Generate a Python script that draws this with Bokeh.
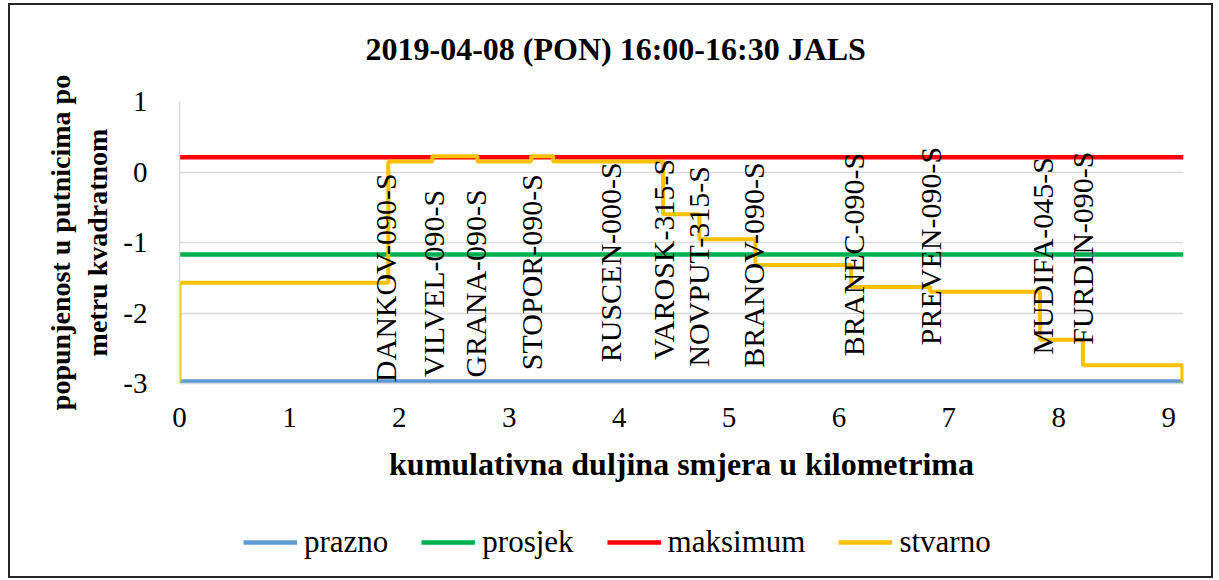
import math
from bokeh.plotting import figure
from bokeh.layouts import column
from bokeh.models import (Legend, LegendItem, FixedTicker, Range1d, ColumnDataSource, Div)
from bokeh.core.properties import value
from bokeh.embed import file_html
from bokeh.resources import INLINE

# ---------------- data ----------------
naslov = "2019-04-08 (PON) 16:00-16:30 JALS"
x_naziv = "kumulativna duljina smjera u kilometrima"
y_naziv = "popunjenost u putnicima po\nmetru kvadratnom"

x_ticks = [0, 1, 2, 3, 4, 5, 6, 7, 8, 9]
y_ticks = [-3, -2, -1, 0, 1]

duljina_km = [0.0, 9.135]
prazno = [-2.97, -2.97]
prosjek = [-1.17, -1.17]
maksimum = [0.21, 0.21]

stvarno_km = [0.0, 0.0, 1.90, 2.30, 2.71, 3.20, 3.40, 4.40, 4.73, 5.24, 6.11, 6.83, 7.83, 8.22, 9.125]
stvarno = [-2.97, -1.57, 0.15, 0.225, 0.15, 0.225, 0.15, -0.60, -0.955, -1.32, -1.63, -1.70, -2.38, -2.74, -2.97]

stanice = ["DANKOV-090-S", "VILVEL-090-S", "GRANA-090-S", "STOPOR-090-S", "RUSCEN-000-S",
           "VAROSK-315-S", "NOVPUT-315-S", "BRANOV-090-S", "BRANEC-090-S", "PREVEN-090-S",
           "MUDIFA-045-S", "FURDIN-090-S"]
stanice_km = [1.87, 2.31, 2.69, 3.20, 3.92, 4.40, 4.72, 5.22, 6.13, 6.83, 7.85, 8.22]
stanice_y = [-1.50, -1.58, -1.58, -1.42, -1.28, -1.24, -1.34, -1.32, -1.17, -1.05, -1.19, -1.08]

serije = ["prazno", "prosjek", "maksimum", "stvarno"]
boje = ["#5b9bd5", "#00b050", "#ff0000", "#ffc000"]

# ---------------- main figure ----------------
FONT = "Liberation Serif"

p = figure(width=1211, height=500, x_range=Range1d(0, 9.135), y_range=Range1d(-3, 1),
           output_backend="svg", toolbar_location=None,
           min_border_left=179, min_border_right=28, min_border_top=101, min_border_bottom=117,
           title=naslov)

p.title.text_font = FONT
p.title.text_font_size = "32px"
p.title.text_font_style = "bold"
p.title.text_color = "black"
p.title.align = "left"
p.title.offset = 186
try:
    p.title.padding = dict(left=0, right=0, top=0, bottom=35)
    p.title.standoff = 0
except Exception:
    p.title.standoff = 64

p.outline_line_color = None
p.background_fill_color = "white"
p.border_fill_color = "white"

p.xaxis.ticker = FixedTicker(ticks=x_ticks)
p.yaxis.ticker = FixedTicker(ticks=y_ticks)
p.yaxis.major_label_overrides = {t: str(t) for t in y_ticks}
for ax in (p.xaxis, p.yaxis):
    ax.major_tick_line_color = None
    ax.minor_tick_line_color = None
    ax.axis_line_color = "#d9d9d9"
    ax.axis_line_width = 1.5
    ax.major_label_text_font = FONT
    ax.major_label_text_font_size = "29px"
    ax.major_label_text_color = "black"
    ax.axis_label_text_font = FONT
    ax.axis_label_text_font_style = "bold"
    ax.axis_label_text_color = "black"

p.xaxis.axis_label = x_naziv
p.xaxis.axis_label_text_font_size = "32px"
p.xaxis.major_label_standoff = 18
p.xaxis.axis_label_standoff = 16

p.yaxis.axis_label = y_naziv
p.yaxis.axis_label_text_font_size = "28px"
p.yaxis.major_label_standoff = 26
p.yaxis.axis_label_standoff = 7

p.xgrid.visible = False
p.ygrid.grid_line_color = "#d9d9d9"
p.ygrid.grid_line_width = 1.5

p.line(duljina_km, prazno, line_color=boje[0], line_width=4.5)
p.line(duljina_km, prosjek, line_color=boje[1], line_width=4.5)
p.line(duljina_km, maksimum, line_color=boje[2], line_width=4.5)
p.step(stvarno_km, stvarno, mode="after", line_color=boje[3], line_width=4)

src = ColumnDataSource(dict(x=stanice_km, y=stanice_y, t=stanice))
p.text(x="x", y="y", text="t", source=src, angle=math.pi / 2,
       text_align="center", text_baseline="middle",
       text_font=value(FONT), text_font_size="30px", text_color="black")

# ---------------- legend strip ----------------
lg = figure(width=1211, height=76, x_range=Range1d(0, 1), y_range=Range1d(0, 1),
            output_backend="svg", toolbar_location=None,
            x_axis_type=None, y_axis_type=None, min_border=0)
lg.outline_line_color = None
lg.grid.visible = False
items = []
for naziv, boja in zip(serije, boje):
    r = lg.line([-10, -9], [0, 0], line_color=boja, line_width=4.5)
    items.append(LegendItem(label=naziv, renderers=[r]))
legend = Legend(items=items, orientation="horizontal", location=(64, 16),
                label_text_font=FONT, label_text_font_size="31px", label_text_color="black",
                glyph_width=54, glyph_height=20, label_standoff=7, spacing=33,
                padding=0, margin=0, border_line_color=None, background_fill_alpha=0)
legend.label_text_font = FONT
lg.add_layout(legend, "center")

okvir = Div(width=1, height=1, text=(
    '<div style="position:fixed;left:8px;top:3px;width:1205px;height:575px;'
    'box-sizing:border-box;border:2px solid #262626;pointer-events:none;z-index:10"></div>'))

layout = column(p, lg, okvir, spacing=0)

open("out.html", "w").write(file_html(layout, INLINE))
